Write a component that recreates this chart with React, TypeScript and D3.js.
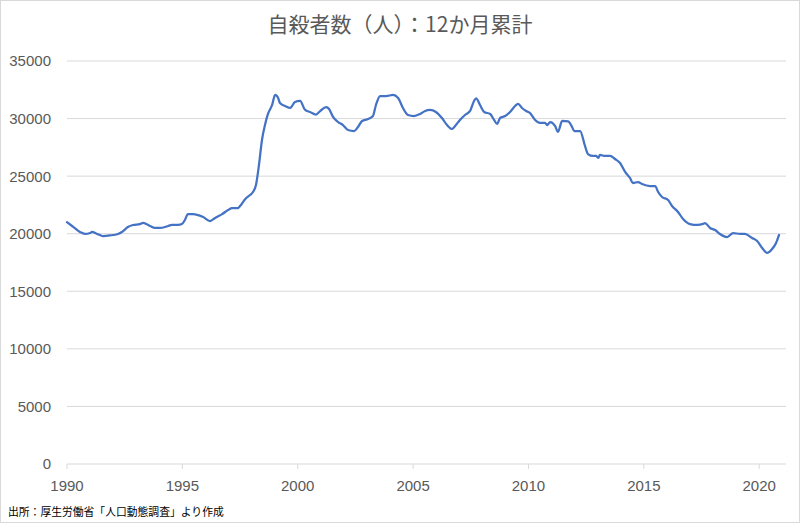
import React from "react";
import * as d3 from "d3";

const title = "自殺者数（人）：12か月累計";
const footnote = "出所：厚生労働省「人口動態調査」より作成";

const yTicks = [0, 5000, 10000, 15000, 20000, 25000, 30000, 35000];
const xTicks = [1990, 1995, 2000, 2005, 2010, 2015, 2020];

const times = [
  1990.0, 1990.22, 1990.56, 1990.78, 1991.0, 1991.08, 1991.3, 1991.43, 1991.56, 1991.86,
  1992.21, 1992.38, 1992.64, 1992.86, 1993.16, 1993.3, 1993.6, 1993.81, 1994.03, 1994.25,
  1994.38, 1994.55, 1994.81, 1994.98, 1995.11, 1995.24, 1995.46, 1995.68, 1995.9, 1996.2,
  1996.42, 1996.72, 1996.98, 1997.15, 1997.41, 1997.5, 1997.72, 1997.93, 1998.06, 1998.19,
  1998.32, 1998.45, 1998.58, 1998.71, 1998.89, 1999.02, 1999.15, 1999.23, 1999.45, 1999.67,
  1999.88, 2000.1, 2000.32, 2000.53, 2000.79, 2000.97, 2001.23, 2001.36, 2001.53, 2001.75,
  2001.96, 2002.18, 2002.44, 2002.61, 2002.79, 2003.05, 2003.26, 2003.39, 2003.57, 2003.83,
  2004.13, 2004.35, 2004.56, 2004.78, 2005.04, 2005.3, 2005.52, 2005.73, 2005.99, 2006.25,
  2006.47, 2006.69, 2006.82, 2007.03, 2007.25, 2007.47, 2007.64, 2007.73, 2007.9, 2008.08,
  2008.34, 2008.51, 2008.64, 2008.77, 2008.99, 2009.2, 2009.42, 2009.55, 2009.72, 2009.9,
  2010.07, 2010.29, 2010.5, 2010.72, 2010.81, 2010.94, 2011.15, 2011.28, 2011.46, 2011.72,
  2011.89, 2011.98, 2012.24, 2012.45, 2012.58, 2012.8, 2012.93, 2013.02, 2013.1, 2013.32,
  2013.54, 2013.75, 2013.97, 2014.19, 2014.4, 2014.53, 2014.75, 2014.92, 2015.27, 2015.49,
  2015.62, 2015.79, 2016.05, 2016.22, 2016.48, 2016.7, 2017.0, 2017.31, 2017.57, 2017.65,
  2017.87, 2018.09, 2018.3, 2018.61, 2018.87, 2019.17, 2019.38, 2019.69, 2019.91, 2020.13,
  2020.34, 2020.56, 2020.73, 2020.86,
];

const values = [
  21000, 20670, 20150, 19980, 20060, 20150, 19980, 19890, 19800, 19850,
  19980, 20150, 20580, 20760, 20840, 20950, 20670, 20500, 20500, 20580,
  20670, 20760, 20760, 20840, 21190, 21700, 21700, 21620, 21450, 21100,
  21370, 21700, 22060, 22230, 22230, 22400, 23000, 23360, 23620, 24230,
  25970, 28140, 29440, 30400, 31180, 32050, 31790, 31350, 31090, 30920,
  31440, 31530, 30750, 30570, 30350, 30650, 31000, 30830, 30140, 29700,
  29440, 29010, 28920, 29270, 29790, 29960, 30220, 31180, 31960, 31960,
  32050, 31790, 30920, 30310, 30220, 30400, 30660, 30750, 30570, 30050,
  29440, 29100, 29360, 29880, 30310, 30660, 31530, 31750, 31180, 30570,
  30400, 29880, 29530, 30050, 30220, 30570, 31090, 31270, 30920, 30660,
  30480, 29880, 29620, 29620, 29440, 29700, 29360, 28850, 29790, 29750,
  29270, 28920, 28920, 27620, 26920, 26750, 26750, 26580, 26840, 26750,
  26750, 26490, 26140, 25360, 24840, 24400, 24490, 24320, 24140, 24140,
  23620, 23190, 22930, 22410, 21890, 21280, 20840, 20760, 20850, 20930,
  20500, 20320, 19970, 19710, 20060, 19980, 19980, 19630, 19370, 18760,
  18330, 18670, 19190, 19890,
];

const W = 800;
const H = 523;
const left = 67;
const right = 786;
const top = 61;
const bottom = 464;

export default function App() {
  const x = d3.scaleLinear().domain([1990, 2020]).range([left, 759.2]);
  const y = d3.scaleLinear().domain([0, 35000]).range([bottom, top]);
  const data = times.map((t, i) => ({ t, v: values[i] }));
  const line = d3
    .line<{ t: number; v: number }>()
    .x((d) => x(d.t))
    .y((d) => y(d.v))
    .curve(d3.curveMonotoneX);

  const numFont = "'Liberation Sans', Arial, sans-serif";
  const cjkFont = "'Noto Sans CJK JP', sans-serif";

  return (
    <div style={{ position: "absolute", left: 0, top: 0 }}>
      <svg width={W} height={H} style={{ display: "block", background: "#fff" }}>
        <rect x={0.5} y={0.5} width={W - 1} height={H - 1} fill="#fff" stroke="#D9D9D9" />
        <text
          x={400}
          y={32}
          textAnchor="middle"
          fill="#595959"
          fontSize={21}
          fontFamily={cjkFont}
        >
          {title}
        </text>
        {yTicks.map((t) => (
          <g key={t}>
            {t !== 0 && (
              <line x1={left} x2={right} y1={y(t)} y2={y(t)} stroke="#D9D9D9" strokeWidth={1} />
            )}
            <text
              x={51}
              y={y(t)}
              dy="0.36em"
              textAnchor="end"
              fill="#595959"
              fontSize={15}
              fontFamily={numFont}
            >
              {t}
            </text>
          </g>
        ))}
        <line x1={left} x2={right} y1={bottom} y2={bottom} stroke="#D9D9D9" strokeWidth={1} />
        {xTicks.map((t) => (
          <g key={t}>
            <line x1={x(t)} x2={x(t)} y1={bottom} y2={bottom + 5} stroke="#D9D9D9" strokeWidth={1} />
            <text
              x={x(t)}
              y={486}
              dy="0.36em"
              textAnchor="middle"
              fill="#595959"
              fontSize={15}
              fontFamily={numFont}
            >
              {t}
            </text>
          </g>
        ))}
        <path d={line(data) || ""} fill="none" stroke="#4472C4" strokeWidth={2.25} strokeLinejoin="round" strokeLinecap="round" />
        <text x={8} y={516} fill="#000" fontSize={10.8} fontFamily={cjkFont}>
          {footnote}
        </text>
      </svg>
    </div>
  );
}
